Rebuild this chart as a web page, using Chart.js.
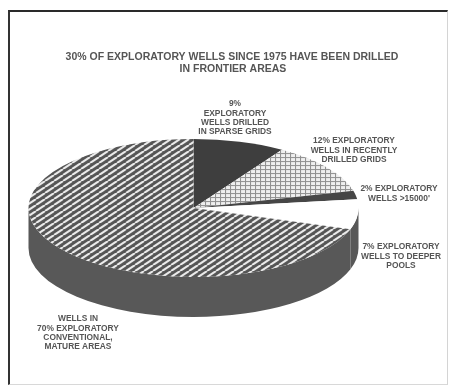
<!DOCTYPE html>
<html>
<head>
<meta charset="utf-8">
<script src="https://cdn.jsdelivr.net/npm/chart.js@4.4.1/dist/chart.umd.min.js"></script>
<style>
  html, body { margin: 0; padding: 0; background: #fff; overflow: hidden; }
  #wrap { position: relative; width: 449px; height: 385px; overflow: hidden; }
  #frame { position: absolute; left: 8px; top: 10px; width: 437px; height: 372px;
           border-top: 2px solid #2a2a2a; border-left: 2px solid #333;
           border-right: 1px solid #d4d4d4; border-bottom: 1px solid #d8d8d8; }
  canvas { position: absolute; left: 0; top: 0; }
</style>
</head>
<body>
<div id="wrap">
  <div id="frame"></div>
  <canvas id="pie" width="449" height="385"></canvas>
</div>
<script>
// data, clockwise from 12 o'clock
const categories = ["Sparse grids", "Recently drilled grids", "Wells >15000'", "Deeper pools", "Conventional, mature areas"];
const shares = [9, 12, 2, 7, 70];
const sliceLabels = [
  ["9%", "EXPLORATORY", "WELLS DRILLED", "IN SPARSE GRIDS"],
  ["12% EXPLORATORY", "WELLS IN RECENTLY", "DRILLED GRIDS"],
  ["2% EXPLORATORY", "WELLS >15000'"],
  ["7% EXPLORATORY", "WELLS TO DEEPER", "POOLS"],
  ["WELLS IN", "70% EXPLORATORY", "CONVENTIONAL,", "MATURE AREAS"]
];
const titleLines = ["30% OF EXPLORATORY WELLS SINCE 1975 HAVE BEEN DRILLED", "IN FRONTIER AREAS"];

// where each label block sits (center x, first line y)
const labelPos = [[235, 104], [354, 141], [399, 189], [401, 247], [78, 319]];
const tilt = 0.418;   // vertical squash of the pie top
const depth = 40;     // thickness of the disc
const sideColor = "#585858";

function stripePattern() {
  // "/" stripes at ~32 degrees, 9px apart horizontally
  const w = 9, h = 5.6, c = document.createElement("canvas");
  c.width = w; c.height = Math.round(h);
  const g = c.getContext("2d");
  const hh = c.height;
  g.fillStyle = "#555"; g.fillRect(0, 0, w, hh);
  g.strokeStyle = "#eeeeee"; g.lineWidth = 2.1;
  for (let k = -1; k <= 1; k++) {
    g.beginPath(); g.moveTo(k * w, hh); g.lineTo(k * w + w, 0); g.stroke();
  }
  return c;
}
function gridPattern() {
  const w = 5, h = 4, c = document.createElement("canvas");
  c.width = w; c.height = h;
  const g = c.getContext("2d");
  g.fillStyle = "#efefef"; g.fillRect(0, 0, w, h);
  g.fillStyle = "#909090";
  g.fillRect(0, 0, w, 1); g.fillRect(0, 0, 1, h);
  return c;
}

const ctx0 = document.getElementById("pie").getContext("2d");
const unsquash = new DOMMatrix().scale(1, 1 / tilt);
const hatch = ctx0.createPattern(stripePattern(), "repeat");
hatch.setTransform(unsquash);
const grid = ctx0.createPattern(gridPattern(), "repeat");
grid.setTransform(unsquash);

const fills = ["#3e3e3e", grid, "#464646", "#ffffff", hatch];

const tiltPlugin = {
  id: "tilt",
  beforeDatasetsDraw(chart) {
    const ctx = chart.ctx;
    const arcs = chart.getDatasetMeta(0).data;
    if (!arcs.length) return;
    const cx = arcs[0].x, cy = arcs[0].y, R = arcs[0].outerRadius, r = R * tilt;
    // side wall: only the front half (angles 0..PI) is visible
    ctx.save();
    ctx.fillStyle = sideColor;
    arcs.forEach(a => {
      const a1 = Math.max(a.startAngle, 0), a2 = Math.min(a.endAngle, Math.PI);
      if (a2 <= a1) return;
      ctx.beginPath();
      ctx.ellipse(cx, cy, R, r, 0, a1, a2);
      ctx.ellipse(cx, cy + depth, R, r, 0, a2, a1, true);
      ctx.closePath();
      ctx.fill();
    });
    ctx.restore();
    ctx.save();
    ctx.translate(cx, cy);
    ctx.scale(1, tilt);
    ctx.translate(-cx, -cy);
  },
  afterDatasetsDraw(chart) {
    chart.ctx.restore();
  },
  afterDraw(chart) {
    const ctx = chart.ctx;
    ctx.save();
    ctx.fillStyle = "#555";
    ctx.textAlign = "center";
    ctx.textBaseline = "middle";
    ctx.font = 'bold 10.5px "Liberation Sans", Arial, sans-serif';
    ctx.fillText(titleLines[0], 232, 57);
    ctx.fillText(titleLines[1], 233, 69);
    ctx.font = 'bold 8.4px "Liberation Sans", Arial, sans-serif';
    sliceLabels.forEach((lines, i) => {
      const [x, y] = labelPos[i];
      lines.forEach((t, j) => ctx.fillText(t, x, y + j * 9.2));
    });
    ctx.restore();
  }
};

new Chart(ctx0, {
  type: "pie",
  data: {
    labels: categories,
    datasets: [{
      data: shares,
      backgroundColor: fills,
      borderWidth: 0,
      clip: false
    }]
  },
  options: {
    responsive: false,
    animation: false,
    events: [],
    layout: { padding: { left: 28, right: 90, top: 43, bottom: 12 } },
    plugins: { legend: { display: false }, tooltip: { enabled: false }, title: { display: false } }
  },
  plugins: [tiltPlugin]
});
</script>
</body>
</html>
